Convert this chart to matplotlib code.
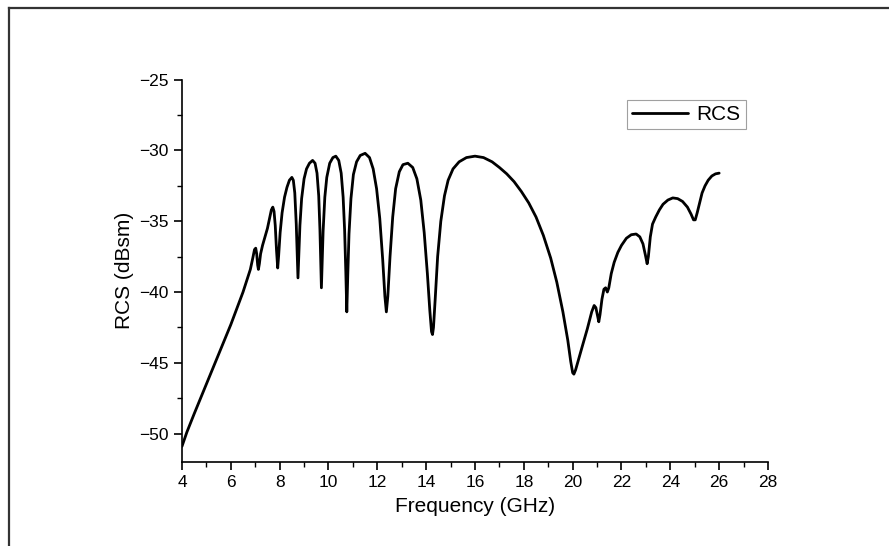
import matplotlib
matplotlib.use("Agg")
import matplotlib.pyplot as plt
from matplotlib.lines import Line2D
from matplotlib.ticker import MultipleLocator

freq = [4.0, 4.2, 4.5, 5.0, 5.5, 6.0, 6.5, 6.8, 6.9, 6.97, 7.02, 7.06, 7.1, 7.13, 7.17,
        7.22, 7.3, 7.4, 7.5, 7.6, 7.66, 7.72, 7.77, 7.82, 7.87, 7.92, 7.96, 8.02, 8.1, 8.2,
        8.3, 8.4, 8.5, 8.56, 8.62, 8.68, 8.72, 8.75, 8.78, 8.83, 8.9, 9.0, 9.1, 9.22, 9.35,
        9.45, 9.53, 9.6, 9.65, 9.69, 9.71, 9.74, 9.78, 9.85, 9.93, 10.05, 10.18, 10.3,
        10.42, 10.52, 10.6, 10.66, 10.71, 10.75, 10.79, 10.84, 10.92, 11.02, 11.15, 11.3,
        11.5, 11.68, 11.83, 11.97, 12.1, 12.22, 12.31, 12.37, 12.43, 12.52, 12.63, 12.75,
        12.9, 13.05, 13.25, 13.45, 13.62, 13.78, 13.92, 14.05, 14.15, 14.22, 14.26, 14.3,
        14.37, 14.47, 14.6, 14.75, 14.9, 15.1, 15.35, 15.65, 16.0, 16.35, 16.7, 17.0, 17.3,
        17.6, 17.9, 18.2, 18.5, 18.8, 19.1, 19.35, 19.6, 19.8, 19.92, 20.0, 20.05, 20.12,
        20.25, 20.4, 20.6, 20.78, 20.88, 20.95, 21.02, 21.07, 21.12, 21.2, 21.28, 21.35,
        21.42, 21.48, 21.58, 21.7, 21.85, 22.0, 22.2, 22.4, 22.6, 22.75, 22.88, 22.98,
        23.05, 23.1, 23.18, 23.27, 23.4, 23.55, 23.7, 23.9, 24.1, 24.3, 24.5, 24.7, 24.85,
        24.95, 25.02, 25.1, 25.2, 25.3, 25.42, 25.55, 25.7, 25.85, 26.0]
rcs = [-50.9, -49.9, -48.6, -46.5, -44.4, -42.3, -40.0, -38.4, -37.6, -37.0, -36.9, -37.3,
       -38.1, -38.4, -38.0, -37.3, -36.7, -36.1, -35.5, -34.7, -34.2, -34.0, -34.3, -35.3,
       -37.0, -38.3, -37.4, -35.8, -34.4, -33.3, -32.6, -32.1, -31.9, -32.1, -33.0, -35.2,
       -37.5, -39.0, -37.6, -35.3, -33.4, -32.0, -31.3, -30.9, -30.7, -30.9, -31.6, -33.2,
       -35.6, -38.4, -39.7, -38.0, -35.7, -33.3, -31.9, -30.9, -30.5, -30.4, -30.7, -31.6,
       -33.3, -35.6, -38.6, -41.4, -38.8, -35.9, -33.4, -31.7, -30.8, -30.35, -30.2, -30.5,
       -31.3, -32.7, -34.8, -37.7, -40.3, -41.4, -40.3, -37.5, -34.7, -32.7, -31.5, -31.0,
       -30.9, -31.2, -32.0, -33.5, -35.8, -38.7, -41.3, -42.8, -43.0, -42.5, -40.5, -37.5,
       -35.0, -33.2, -32.1, -31.3, -30.8, -30.5, -30.4, -30.5, -30.8, -31.2, -31.65, -32.2,
       -32.9, -33.7, -34.7, -36.0, -37.6, -39.3, -41.4, -43.4, -44.9, -45.7, -45.8, -45.5,
       -44.7, -43.8, -42.6, -41.4, -40.95, -41.1, -41.7, -42.1, -41.6, -40.5, -39.8, -39.7,
       -40.0, -39.7, -38.7, -37.9, -37.2, -36.7, -36.2, -35.95, -35.9, -36.1, -36.6, -37.4,
       -38.0, -37.5, -36.1, -35.2, -34.7, -34.2, -33.8, -33.5, -33.35, -33.4, -33.6, -34.0,
       -34.5, -34.9, -34.9, -34.4, -33.7, -33.0, -32.5, -32.1, -31.8, -31.65, -31.6]

x_ticks = [4, 6, 8, 10, 12, 14, 16, 18, 20, 22, 24, 26, 28]
y_ticks = [-50, -45, -40, -35, -30, -25]

plt.rcParams['font.family'] = ['Liberation Sans', 'DejaVu Sans']

fig = plt.figure(figsize=(8.89, 5.46), dpi=100)
ax = fig.add_axes([0.2047, 0.154, 0.6592, 0.7])

ax.plot(freq, rcs, color='black', linewidth=2.0, label='RCS',
        solid_joinstyle='round', solid_capstyle='round')
ax.set_xlim(4, 28)
ax.set_ylim(-52, -25)
ax.set_xticks(x_ticks)
ax.set_yticks(y_ticks)
ax.xaxis.set_minor_locator(MultipleLocator(1))
ax.yaxis.set_minor_locator(MultipleLocator(2.5))

for s in ['top', 'right']:
    ax.spines[s].set_visible(False)
for s in ['left', 'bottom']:
    ax.spines[s].set_linewidth(1.2)
ax.tick_params(which='major', direction='out', length=6, width=1.2, labelsize=12.5)
ax.tick_params(which='minor', direction='out', length=3.5, width=1.0)

ax.set_xlabel('Frequency (GHz)', fontsize=15, labelpad=5)
ax.set_ylabel('RCS (dBsm)', fontsize=15, labelpad=4)

leg = ax.legend(loc='upper left', bbox_to_anchor=(0.759, 0.948), fontsize=15,
                frameon=True, fancybox=False, handlelength=2.7, borderpad=0.25,
                handletextpad=0.4, borderaxespad=0)
leg.get_frame().set_edgecolor('#888888')
leg.get_frame().set_linewidth(0.8)

# outer frame (top and left borders of the page box)
fig.add_artist(Line2D([9 / 889, 1.0], [1 - 8 / 546, 1 - 8 / 546], transform=fig.transFigure,
                      color='#333333', linewidth=1.6))
fig.add_artist(Line2D([9 / 889, 9 / 889], [0.0, 1 - 8 / 546], transform=fig.transFigure,
                      color='#333333', linewidth=1.6))

fig.savefig('out.png', dpi=100)
